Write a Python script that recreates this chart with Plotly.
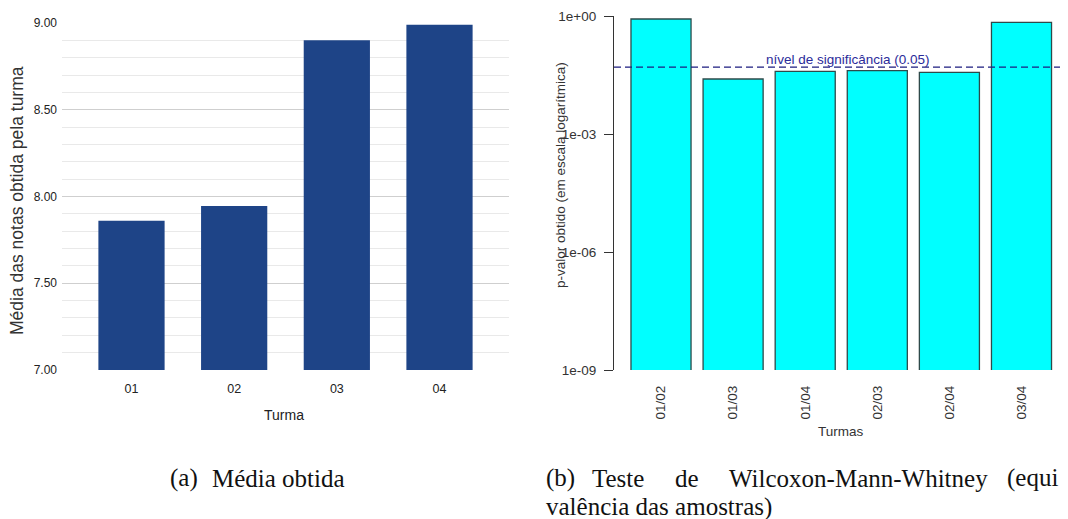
import plotly.graph_objects as go

# ---- data ----
turmas = ["01", "02", "03", "04"]
medias = [7.86, 7.945, 8.90, 8.99]
media_ticks = [7.0, 7.5, 8.0, 8.5, 9.0]
media_ticktext = ["7.00", "7.50", "8.00", "8.50", "9.00"]

pares = ["01/02", "01/03", "01/04", "02/03", "02/04", "03/04"]
pvalores = [0.84, 0.025, 0.039, 0.041, 0.037, 0.69]
p_ticks = [1, 1e-3, 1e-6, 1e-9]
p_ticktext = ["1e+00", "1e-03", "1e-06", "1e-09"]
alpha = 0.05

# page body has an 8px margin: draw figure 8px smaller and shift coordinates
OFF = 8
W, H = 1068 - OFF, 519 - OFF
def px(x):
    return (x - OFF) / W
def py(y):
    return 1 - (y - OFF) / H

fig = go.Figure()

fig.add_trace(go.Bar(
    x=turmas, y=medias, width=0.645,
    marker=dict(color="#1e4487", line=dict(width=0)),
    xaxis="x", yaxis="y", showlegend=False, hoverinfo="skip"))

fig.add_trace(go.Bar(
    x=pares, y=pvalores, width=0.833,
    marker=dict(color="#00ffff", line=dict(color="#2e4a4a", width=1.3)),
    xaxis="x2", yaxis="y2", showlegend=False, hoverinfo="skip"))

sans = "Liberation Sans, Arial, sans-serif"
serif = "Liberation Serif, Times New Roman, serif"

fig.update_layout(
    width=W, height=H, autosize=False,
    margin=dict(l=0, r=0, t=0, b=0, pad=0, autoexpand=False),
    paper_bgcolor="white", plot_bgcolor="white",
    font=dict(family=sans, color="#222"),
    xaxis=dict(domain=[px(62), px(509)], type="category", automargin=False,
               range=[-0.677, 3.677], showgrid=False, zeroline=False,
               showline=False, ticks="", ticklabelstandoff=9,
               tickfont=dict(size=12.5, color="#222", family=sans)),
    yaxis=dict(domain=[py(370), py(23)], range=[7, 9], automargin=False,
               tickvals=media_ticks, ticktext=media_ticktext,
               showgrid=True, gridcolor="#cfcfcf", gridwidth=1.2,
               minor=dict(dtick=0.1, tick0=7, showgrid=True,
                          gridcolor="#e9e9e9", gridwidth=1),
               zeroline=False, showline=False, ticks="",
               ticklabelstandoff=4,
               tickfont=dict(size=12, color="#222", family=sans)),
    xaxis2=dict(domain=[px(614), 1.0], type="category", automargin=False,
                range=[-0.652, 5.645], showgrid=False, zeroline=False,
                showline=False, ticks="", tickangle=-90,
                ticklabelstandoff=12,
                tickfont=dict(size=13.5, color="#333", family=sans)),
    yaxis2=dict(domain=[py(370), py(16)], type="log", range=[-9, 0],
                anchor="x2", automargin=False,
                tickvals=p_ticks, ticktext=p_ticktext,
                showgrid=False, zeroline=False,
                showline=True, linecolor="#333", linewidth=1.2,
                ticks="outside", ticklen=9, tickcolor="#333", tickwidth=1.2,
                ticklabelstandoff=5,
                tickfont=dict(size=13.5, color="#333", family=sans)),
)

# significance line
fig.add_shape(type="line", xref="paper", yref="y2",
              x0=px(614), x1=1.0, y0=alpha, y1=alpha,
              line=dict(color="#1c1c80", width=1.2, dash="7px,4px"))

def note(text, x, y, size, color, family, angle=0, xanchor="center"):
    return dict(text=text, x=px(x), y=py(y), xref="paper", yref="paper",
                xanchor=xanchor, yanchor="middle", showarrow=False,
                textangle=angle, font=dict(size=size, color=color, family=family))

ann = [
    note("nível de significância (0.05)", 848, 59, 13.5, "#2b2b9a", sans),
    note("Turma", 284, 415, 14, "#222", sans),
    note("Média das notas obtida pela turma", 17, 201, 17.5, "#333", sans, angle=-90),
    note("Turmas", 841, 431, 13.5, "#333", sans),
    note("p-valor obtido (em escala logarítmica)", 560, 175, 13.5, "#333", sans, angle=-90),
]

# captions
cap_size, cap_col = 25, "#111"
ann.append(note("(a)", 168, 478, cap_size, cap_col, serif, xanchor="left"))
ann.append(note("Média obtida", 210, 478, cap_size, cap_col, serif, xanchor="left"))
line_b = [("(b)", 544), ("Teste", 590), ("de", 673), ("Wilcoxon-Mann-Whitney", 727), ("(equi", 1005)]
for word, xpos in line_b:
    ann.append(note(word, xpos, 478, cap_size, cap_col, serif, xanchor="left"))
ann.append(note("valência das amostras)", 544, 507, cap_size, cap_col, serif, xanchor="left"))

fig.update_layout(annotations=ann)

fig.write_html("out.html")
